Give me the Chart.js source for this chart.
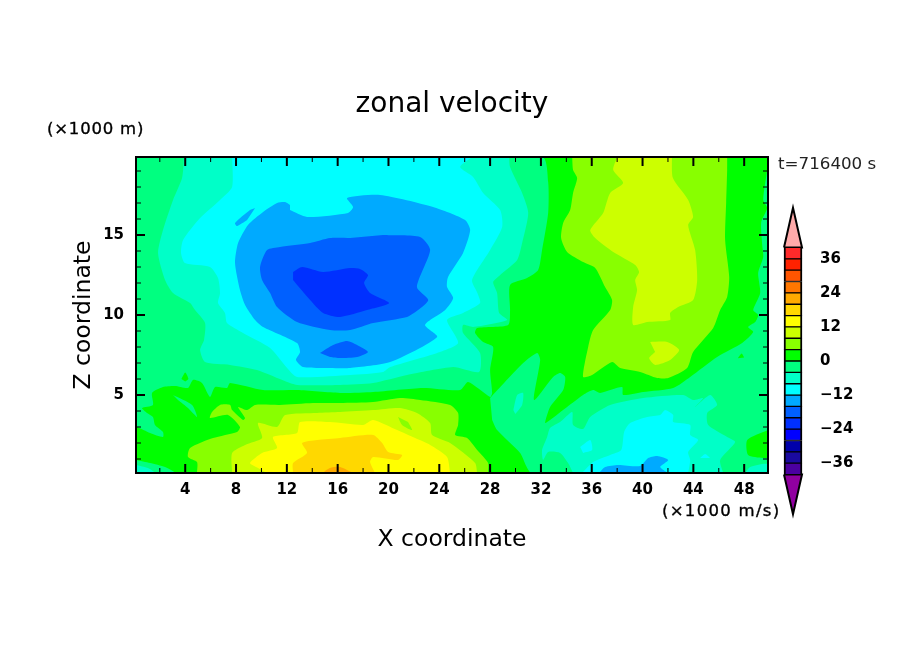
<!DOCTYPE html>
<html>
<head>
<meta charset="utf-8">
<title>zonal velocity</title>
<script src="https://cdn.jsdelivr.net/npm/chart.js@4"></script>
<style>
  html, body { margin: 0; padding: 0; background: #fff; }
  #wrap { position: relative; width: 904px; height: 654px; overflow: hidden; }
  #contour { position: absolute; left: 0; top: 0; }
  #colorbar { position: absolute; left: 770px; top: 196px; }
  .note { position: absolute; font-family: "DejaVu Sans", sans-serif; white-space: nowrap; color: #000; line-height: 1; }
  .heavy { font-size: 16.5px; -webkit-text-stroke: 0.35px #000; }
</style>
</head>
<body>
<div id="wrap">
  <canvas id="contour" width="904" height="654"></canvas>
  <canvas id="colorbar" width="90" height="330"></canvas>
  <div class="note heavy" style="left:47px;top:121px;letter-spacing:0.8px;">(×1000 m)</div>
  <div class="note" style="left:778px;top:155px;font-size:16.7px;color:#222;">t=716400 s</div>
  <div class="note heavy" style="left:662px;top:503px;letter-spacing:1.3px;">(×1000 m/s)</div>
</div>
<script>
// domain of the plot, in units of 1000 m
const xMin = 0.125, xMax = 49.875, zMin = 0.125, zMax = 19.875;
const xTicks = [4, 8, 12, 16, 20, 24, 28, 32, 36, 40, 44, 48];
const xMinorTicks = [2, 6, 10, 14, 18, 22, 26, 30, 34, 38, 42, 46];
const zTicks = [5, 10, 15];
const zMinorTicks = [1, 2, 3, 4, 6, 7, 8, 9, 11, 12, 13, 14, 16, 17, 18, 19];

// colour levels, lower bound of each band
const levels = [-40, -36, -32, -28, -24, -20, -16, -12, -8, -4, 0, 4, 8, 12, 16, 20, 24, 28, 32, 36];
const levelColors = ['#4b00a0', '#1a0aa0', '#0000aa', '#0000ff', '#0030ff', '#0060ff', '#00aaff', '#00ffff', '#00ffc8', '#00ff80',
  '#00ff00', '#88ff00', '#ccff00', '#ffff00', '#ffd800', '#ffaa00', '#ff7700', '#ff5500', '#ff2200', '#ff2a2a'];
const colorbarTicks = [36, 24, 12, 0, -12, -24, -36];

// contour outlines, [x, z]
const domainBase = [[0.125,0.125],[0.125,19.875],[49.875,19.875],[49.875,0.125]];

const leftBelowZero = [[0.125,19.875],[32.09,19.875],[32.57,18.31],[32.57,16.38],[32.09,14.06],[31.78,12.81],[30.91,12.31],[29.57,11.88],[29.57,10.31],[29.42,9.38],[26.98,9.19],[26.82,8.88],[27.45,8.31],[28.24,8],[28,6.56],[28.16,5.13],[28,4.88],[26.27,5.81],[25.64,5.31],[22.72,5.44],[18.79,5.19],[16.19,5.13],[12.8,5.31],[10.13,5.31],[7.53,5.75],[7.29,5.44],[6.35,5.5],[5.95,4.88],[5.32,5.75],[4.61,5.94],[4.22,5.44],[3.2,5.56],[2.25,5.5],[1.39,5.13],[1.46,4.38],[0.6,4.19],[0.99,3.88],[1.46,3.63],[1.62,3.13],[2.25,2.69],[2.25,2.38],[1.23,2.63],[0.2,3],[0.125,3]];
const leftFinger = [[3.04,5],[4.54,4.38],[4.93,3.63],[4.22,4.19],[3.43,4.69]];
const cornerBelowZero = [[0.125,0.94],[1.23,0.75],[2.41,0.5],[3.2,0.125],[0.125,0.125]];
const cornerBelowM4 = [[0.125,0.63],[1.07,0.44],[1.62,0.125],[0.125,0.125]];
const rightBelowZero = [[28,4.81],[30.6,7],[31.7,7.63],[31.94,7.19],[31.46,4.69],[32.96,6.13],[33.51,6.38],[33.91,6.13],[33.75,5.31],[32.72,4.25],[32.33,3.25],[32.72,3.44],[34.06,4.25],[35.32,5],[36.11,5.31],[36.66,5.13],[38.39,5.5],[38.47,5],[40.05,5.19],[42.41,5.44],[43.75,6.13],[45.87,7.38],[47.84,8.25],[48.71,8.94],[48.31,9.25],[48.87,9.56],[49.1,10],[48.71,10.31],[49.26,11.38],[49.1,12.63],[49.5,13.63],[49.42,14.38],[49.34,15.81],[49.81,16.69],[49.5,17.19],[49.81,19.06],[49.875,19.69],[49.875,0.125],[31.31,0.125],[30.36,1.38],[28.55,2.81],[28.16,3.44]];

const upperM4 = [[3.91,19.875],[3.75,18.56],[3.04,17.19],[2.25,15.31],[1.86,13.88],[2.41,12.19],[3.04,11.38],[4.38,10.75],[4.77,10.31],[5.56,9.5],[5.48,8.44],[5.17,7.81],[5.56,7.06],[7.53,6.88],[9.65,6.56],[12.02,5.81],[12.8,5.63],[16.19,5.63],[18.79,5.75],[21.46,6.25],[25.09,6.75],[27.13,6.44],[27.21,7.63],[25.87,8.88],[25.87,9.38],[26.66,9.25],[29.34,9.69],[28.71,10.13],[28.55,11.38],[28.24,12.06],[28.79,12.5],[30.13,13.44],[30.52,14.5],[31,16.38],[30.52,17.63],[29.57,19.25],[29.5,19.875]];
const upperM8 = [[7.69,19.875],[7.69,18],[6.74,17.19],[5.17,16.06],[3.83,14.69],[3.67,13.88],[3.98,13.25],[5.95,13],[6.58,12.31],[6.74,11.38],[6.58,10.75],[7.13,10.13],[7.29,9.5],[8.55,8.88],[10.68,7.94],[12.02,6.69],[12.8,6.13],[16.98,6.25],[19.57,6.44],[20.13,6.75],[23.83,7.63],[25.48,8.25],[24.61,9.69],[25.87,10.13],[27.21,10.75],[27,11.38],[26.58,12.19],[28,14.06],[28.95,15.5],[28.79,16.56],[27.45,17.63],[26.66,18.63],[25.64,19.25],[26.58,19.875]];
const upperM12 = [[12.25,16.88],[11.86,17.06],[11.23,17],[10.13,16.44],[8.94,15.63],[8.16,14.5],[7.92,13.25],[8.31,11.56],[8.71,10.63],[9.5,9.69],[10.13,9.25],[12.8,8.25],[13.04,7.69],[12.72,7.19],[13.28,6.75],[15.4,6.69],[16.98,6.69],[20.13,7.06],[23.83,8.63],[22.88,9.38],[24.46,10.31],[25.09,11.06],[24.61,11.75],[24.69,12.38],[25.87,13.88],[26.43,15.31],[26.03,15.94],[23.51,16.75],[19.34,17.5],[16.74,17.31],[17.21,16.75],[16.82,16.38],[13.59,16.13],[12.25,16.56]];
const sliverM12 = [[9.5,16.69],[9.1,16.56],[7.92,15.75],[8.08,15.56],[8.87,15.94]];
const upperM16 = [[16.98,14.81],[15.4,14.81],[13.83,14.5],[11.46,14.25],[10.44,14.06],[9.89,13],[10.05,12.19],[10.68,11.38],[11.23,10.5],[12.8,9.56],[15.4,9.06],[16.98,9.06],[18.79,9.5],[21.46,9.88],[22.33,10.31],[23.13,10.94],[22.24,11.75],[23.28,14.06],[22.49,14.88],[19.57,15]];
const lowerLobeM16 = [[14.61,7.63],[15.64,8.13],[16.74,8.38],[17.53,8.13],[18.39,7.69],[17.53,7.38],[16.19,7.31],[15.4,7.38]];
const coreM20 = [[12.49,12.69],[13.2,13],[14.85,12.69],[16.98,12.94],[17.76,12.88],[18.39,12.5],[18.08,12],[18.55,11.38],[20.05,10.75],[18.31,10.31],[16.19,9.88],[14.85,10.13],[13.83,10.94],[12.49,12.19]];

const lowerP4 = [[4.93,0.125],[4.93,0.81],[4.22,1.13],[4.38,1.69],[6.19,2.31],[8.08,2.69],[8.31,3],[7.37,3.75],[5.95,3.56],[6.11,3.94],[6.74,4.38],[7.53,4.38],[7.69,4.06],[8.55,3.44],[8.71,3.56],[8.16,4.25],[8.87,4.06],[9.5,4.38],[11.46,4.38],[14.06,4.5],[16.19,4.5],[18.79,4.56],[20.91,4.81],[22.49,4.69],[24.85,4.38],[25.48,3.88],[25.48,3.13],[25.25,2.5],[26.19,2.31],[26.98,1.56],[27.84,0.75],[27.84,0.125]];
const lowerP8 = [[7.69,0.125],[7.69,1.38],[8.71,1.88],[10.05,2.31],[9.73,3.25],[11.23,3],[11.86,3.75],[14.38,3.88],[16.19,3.94],[18.79,4.06],[20.91,4.19],[22.24,3.88],[23.28,3.25],[23.43,2.5],[24.85,2],[26.82,0.75],[26.98,0.125]];
const holeP4 = [[20.75,3.63],[21.07,3.13],[21.86,2.81],[21.54,3.31]];
const lowerP12 = [[10.44,0.125],[9.73,0.44],[9.1,0.75],[10.05,1.38],[11.23,1.69],[10.91,2.38],[12.8,2.63],[13.04,3.31],[15.4,3.31],[18,3.13],[18.79,3.44],[20.68,2.81],[22.1,2.31],[23.28,1.88],[24.61,1.13],[24.85,0.125]];
const lowerP16 = [[12.49,0.125],[12.49,0.75],[13.59,1.38],[13.2,2],[14.38,2.19],[16.19,2.31],[18.79,2.5],[19.5,2],[19.97,1.44],[21.07,1.25],[20.75,0.94],[18.79,1.13],[18.55,0.81],[18.94,0.125]];
const lowerP20 = [[14.77,0.125],[15.4,0.44],[16.19,0.5],[17.21,0.125]];

const rightP4 = [[34.46,19.875],[34.53,19.06],[34.85,18.56],[34.53,17.63],[34.3,16.56],[33.75,15.75],[33.59,14.81],[34.06,13.94],[35.32,13.31],[36.27,12.94],[37.05,11.75],[37.6,10.94],[37.45,10.31],[36.11,9.06],[35.72,8],[35.32,6.13],[36.03,6.25],[37.6,7.06],[38.24,6.69],[39.81,6.44],[41.15,6.06],[42.02,6.06],[43.51,6.69],[43.98,7.69],[45.56,9.19],[46.11,10.31],[46.66,11.13],[46.82,12.38],[46.5,14.69],[46.58,17],[46.66,19.06],[46.66,19.875]];
const rightP8 = [[38,19.875],[37.69,19.06],[38.47,18.25],[37.45,17.63],[36.9,16.38],[35.88,15.31],[36.27,14.81],[37.69,13.94],[39.42,13.13],[39.73,12.69],[39.42,12.19],[39.57,11.56],[39.26,10.5],[39.26,9.38],[40.36,9.56],[42.17,9.69],[42.17,10.13],[42.8,10.5],[43.98,10.94],[44.3,12.19],[44.14,14.06],[43.59,15.63],[43.98,16.13],[43.59,17.19],[42.39,18.56],[42.31,19.875]];
const rightLobeP8 = [[40.6,8.31],[41.94,8.31],[42.88,7.81],[42.17,7.19],[40.99,6.88],[40.52,7.31],[40.99,7.69]];

const rightPatchP0 = [[49.875,2.81],[48.24,2.19],[48.31,1.25],[49.5,1.06],[49.875,1.06]];
const speckP0a = [[3.7,6],[4,6.4],[4.25,6],[4,5.85]];
const speckP0b = [[47.5,7.3],[47.8,7.6],[48,7.35]];

const lowerRightM4 = [[34.53,0.125],[34.14,0.75],[33.51,1.38],[32.57,1.44],[32.17,0.94],[32.09,1.56],[32.49,2.38],[32.72,2.94],[33.51,3.31],[34.46,3.94],[34.53,3.13],[35.32,2.88],[35.88,3.63],[37.45,4.38],[40.05,4.81],[43.2,5],[43.98,4.69],[44.77,4.81],[44.14,4.25],[45.32,5],[45.87,4.38],[45.09,3.88],[45.17,3.13],[46.66,2.38],[47.29,2.06],[46.11,0.94],[46.35,0.125]];
const cornerRightM4 = [[48.08,0.125],[48.47,0.5],[49.81,0.69],[49.875,0.125]];
const wedgeM4 = [[29.83,4.06],[30.13,5],[30.6,5.13],[30.52,4.38],[29.98,3.81]];
const lowerRightM8 = [[35.24,0.125],[36.11,0.81],[37.45,1.25],[38.32,1.56],[38.55,2.69],[39.02,3.25],[40.36,3.63],[41.39,3.75],[41.78,4.06],[42.41,3.75],[42.41,3.31],[43.75,3.13],[43.75,2.5],[44.38,2.19],[43.59,1.44],[43.75,0.94],[43.59,0.125]];
const blobM8 = [[35.09,1.75],[35.88,2.19],[36.03,1.56],[35.32,1.38]];
const tinyM8 = [[44.54,1.06],[44.93,1.31],[45.32,1.06]];
const lowerRightM12 = [[36.58,0.125],[37.05,0.5],[38.08,0.63],[39.81,0.56],[40.44,1.06],[41.15,1.19],[42.02,0.94],[41.39,0.5],[42.02,0.125]];

// painting order: each outline with the level it is filled in
const contourBands = [
  [domainBase, 0], [leftBelowZero, -4], [leftFinger, -4], [cornerBelowZero, -4], [cornerBelowM4, -8], [rightBelowZero, -4],
  [upperM4, -8], [upperM8, -12], [upperM12, -16], [sliverM12, -16], [upperM16, -20], [lowerLobeM16, -20], [coreM20, -24],
  [lowerP4, 4], [lowerP8, 8], [holeP4, 4], [lowerP12, 12], [lowerP16, 16], [lowerP20, 20],
  [rightP4, 4], [rightP8, 8], [rightLobeP8, 8],
  [rightPatchP0, 0], [speckP0a, 0], [speckP0b, 0],
  [lowerRightM4, -8], [cornerRightM4, -8], [wedgeM4, -8], [lowerRightM8, -12], [blobM8, -12], [tinyM8, -12], [lowerRightM12, -16]
];

function levelColor(level) {
  return levelColors[levels.indexOf(level)];
}

Chart.defaults.font.family = '"DejaVu Sans", sans-serif';
Chart.defaults.color = '#000';
Chart.defaults.animation = false;

// inward ticks on all four sides plus the frame, on top of the filled contours
const frameTicks = {
  id: 'frameTicks',
  afterDatasetsDraw(chart) {
    const { ctx, chartArea: a, scales: { x, y } } = chart;
    ctx.save();
    ctx.strokeStyle = '#000';
    const drawSet = (values, scale, len, width) => {
      ctx.lineWidth = width;
      ctx.beginPath();
      values.forEach(v => {
        const p = scale.getPixelForValue(v);
        if (scale === x) {
          ctx.moveTo(p, a.bottom); ctx.lineTo(p, a.bottom - len);
          ctx.moveTo(p, a.top); ctx.lineTo(p, a.top + len);
        } else {
          ctx.moveTo(a.left, p); ctx.lineTo(a.left + len, p);
          ctx.moveTo(a.right, p); ctx.lineTo(a.right - len, p);
        }
      });
      ctx.stroke();
    };
    drawSet(xTicks, x, 9, 2);
    drawSet(xMinorTicks, x, 5, 1);
    drawSet(zTicks, y, 9, 2);
    drawSet(zMinorTicks, y, 5, 1);
    ctx.lineWidth = 2;
    ctx.strokeRect(a.left, a.top, a.right - a.left, a.bottom - a.top);
    ctx.restore();
  }
};

new Chart(document.getElementById('contour'), {
  type: 'scatter',
  data: {
    datasets: contourBands.map(([outline, level], i) => ({
      data: outline.map(([x, z]) => ({ x, y: z })),
      order: contourBands.length - i,
      showLine: true,
      fill: 'shape',
      backgroundColor: levelColor(level),
      borderColor: levelColor(level),
      borderWidth: 0,
      pointRadius: 0,
      tension: outline === domainBase ? 0 : 0.22
    }))
  },
  options: {
    responsive: false,
    devicePixelRatio: 1,
    layout: { autoPadding: false },
    plugins: {
      legend: { display: false },
      tooltip: { enabled: false },
      title: {
        display: true,
        text: 'zonal velocity',
        font: { size: 28, weight: 'normal', lineHeight: 1.2 },
        padding: { top: 88, bottom: 35.4 }
      }
    },
    scales: {
      x: {
        type: 'linear',
        min: xMin,
        max: xMax,
        afterBuildTicks: s => { s.ticks = xTicks.map(value => ({ value })); },
        afterFit: s => { s.height = 181; },
        grid: { display: false },
        border: { display: false },
        ticks: { font: { size: 15, weight: 'bold' }, padding: 0, maxRotation: 0, autoSkip: false },
        title: { display: true, text: 'X coordinate', font: { size: 23.5, lineHeight: 1.2 }, padding: { top: 0, bottom: 100 } }
      },
      y: {
        type: 'linear',
        min: zMin,
        max: zMax,
        afterBuildTicks: s => { s.ticks = zTicks.map(value => ({ value })); },
        afterFit: s => { s.width = 136; },
        grid: { display: false },
        border: { display: false },
        ticks: { font: { size: 15, weight: 'bold' }, padding: 4 },
        title: { display: true, text: 'Z coordinate', font: { size: 23.5, lineHeight: 1.2 }, padding: { top: 70, bottom: 0 } }
      },
      // empty axis that keeps the right margin free, so the title stays centred on the page
      rightMargin: {
        type: 'linear',
        position: 'right',
        afterFit: s => { s.width = 136; },
        grid: { display: false },
        border: { display: false },
        ticks: { display: false }
      }
    }
  },
  plugins: [frameTicks]
});

// colour bar with its two end triangles
const overTriangle = [[-0.5, 40], [0, 54], [0.5, 40], [-0.5, 40]];
const underTriangle = [[-0.5, -40], [0, -54], [0.5, -40], [-0.5, -40]];

new Chart(document.getElementById('colorbar'), {
  data: {
    labels: ['level'],
    datasets: [
      ...levels.map((lo, i) => ({
        type: 'bar',
        data: [[lo, lo + 4]],
        backgroundColor: levelColors[i],
        borderColor: '#000',
        borderWidth: { left: 2, right: 2, top: 1, bottom: 1 },
        borderSkipped: false,
        barThickness: 18,
        grouped: false
      })),
      ...[[overTriangle, '#ffaaaa'], [underTriangle, '#9000a0']].map(([tri, color]) => ({
        type: 'line',
        xAxisID: 'xTri',
        clip: false,
        data: tri.map(([x, y]) => ({ x, y })),
        fill: 'shape',
        backgroundColor: color,
        borderColor: '#000',
        borderWidth: 2,
        pointRadius: 0,
        tension: 0
      }))
    ]
  },
  options: {
    responsive: false,
    devicePixelRatio: 1,
    layout: { autoPadding: false, padding: { left: 5, top: 5.6, bottom: 6.6 } },
    plugins: { legend: { display: false }, tooltip: { enabled: false }, title: { display: false } },
    scales: {
      x: { display: false, stacked: false },
      xTri: { type: 'linear', display: false, min: -1, max: 1 },
      y: {
        type: 'linear',
        position: 'right',
        min: -54.6,
        max: 54.6,
        afterBuildTicks: s => { s.ticks = colorbarTicks.map(value => ({ value })); },
        afterFit: s => { s.width = 49; },
        grid: { display: false },
        border: { display: false },
        ticks: {
          font: { size: 15, weight: 'bold' },
          padding: 1,
          callback: v => String(v).replace('-', '\u2212')
        }
      }
    }
  }
});
</script>
</body>
</html>
